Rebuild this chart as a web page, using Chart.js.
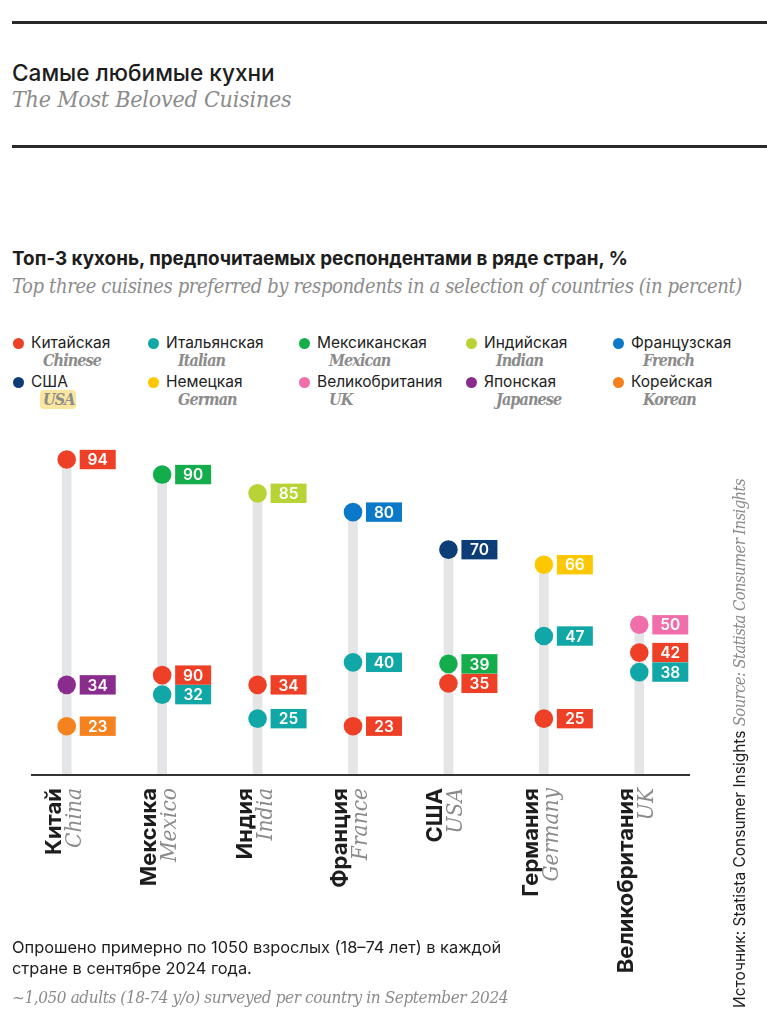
<!DOCTYPE html>
<html>
<head>
<meta charset="utf-8">
<script src="https://cdn.jsdelivr.net/npm/chart.js@4.4.1/dist/chart.umd.min.js"></script>
<style>
  body { margin: 0; width: 767px; height: 1024px; position: relative; overflow: hidden;
         background: #fff; font-family: Inter, "Noto Sans", sans-serif; color: #1d1d1d; }
  .rule { position: absolute; left: 12px; right: 0; height: 3px; background: #2a2a2a; }
  .t { position: absolute; white-space: nowrap; }
  .it { font-family: "DejaVu Serif Condensed", "DejaVu Serif", serif; font-style: italic; color: #8b8b8b; }
  #wrap { position: absolute; left: 0; top: 420px; width: 767px; height: 600px; }
  .dot { position: absolute; width: 11px; height: 11px; border-radius: 50%; }
  .mark { position: absolute; background: #fbe6a0; border-radius: 4px; }
</style>
</head>
<body>
<div class="rule" style="top:21px"></div>
<div class="t" style="left:12px;top:59px;font-size:22.6px;font-weight:500;">Самые любимые кухни</div>
<div class="t it" style="left:12px;top:86px;font-size:23px;letter-spacing:-0.2px;">The Most Beloved Cuisines</div>
<div class="rule" style="top:145px"></div>

<div class="t" style="left:12px;top:247px;font-size:18.85px;font-weight:700;">Топ-3 кухонь, предпочитаемых респондентами в ряде стран, %</div>
<div class="t it" style="left:12px;top:274px;font-size:20px;letter-spacing:-0.36px;">Top three cuisines preferred by respondents in a selection of countries (in percent)</div>

<div id="legend"></div>

<div id="wrap"><canvas id="chart"></canvas></div>

<div class="t" style="left:12px;top:937px;font-size:16.4px;line-height:21px;">Опрошено примерно по 1050 взрослых (18–74 лет) в каждой<br>стране в сентябре 2024 года.</div>
<div class="t it" style="left:12px;top:987px;font-size:17px;letter-spacing:-0.4px;">~1,050 adults (18-74 y/o) surveyed per country in September 2024</div>

<div class="t" style="left:731px;top:1008px;transform-origin:0 0;transform:rotate(-90deg);font-size:15.5px;line-height:18px;">Источник: Statista Consumer Insights <span class="it" style="font-size:16.5px;letter-spacing:-0.6px;">Source: Statista Consumer Insights</span></div>

<script>
// Страны (ось X)
const countriesRu = ['Китай', 'Мексика', 'Индия', 'Франция', 'США', 'Германия', 'Великобритания'];
const countriesEn = ['China', 'Mexico', 'India', 'France', 'USA', 'Germany', 'UK'];

// Кухни (легенда)
const cuisinesRu = ['Китайская', 'Итальянская', 'Мексиканская', 'Индийская', 'Французская',
                    'США', 'Немецкая', 'Великобритания', 'Японская', 'Корейская'];
const cuisinesEn = ['Chinese', 'Italian', 'Mexican', 'Indian', 'French',
                    'USA', 'German', 'UK', 'Japanese', 'Korean'];

// Значения, % (null = не в топ-3)
const chinese  = [94, 36, 34, 23, 35, 25, 42];
const italian  = [null, 32, 25, 40, null, 47, 38];
const mexican  = [null, 90, null, null, 39, null, null];
const indian   = [null, null, 85, null, null, null, null];
const french   = [null, null, null, 80, null, null, null];
const american = [null, null, null, null, 70, null, null];
const german   = [null, null, null, null, null, 66, null];
const british  = [null, null, null, null, null, null, 50];
const japanese = [34, null, null, null, null, null, null];
const korean   = [23, null, null, null, null, null, null];

// подписи как на картинке (у Мексики китайская кухня подписана "90")
const chineseTags = ['94', '90', '34', '23', '35', '25', '42'];

const axisMin = 10;
const axisMax = 100;

const series = [chinese, italian, mexican, indian, french, american, german, british, japanese, korean];
const colors = ['#ee4026', '#12a7a7', '#14ad4c', '#b8d335', '#0b79c8',
                '#0d3d77', '#fdc802', '#f06fab', '#8a2b8e', '#f4821f'];

// легенда
const legend = document.getElementById('legend');
const colX = [18, 153, 304, 471, 618];
const rowY = [343, 382];
cuisinesRu.forEach((name, i) => {
  const cx = colX[i % 5], cy = rowY[Math.floor(i / 5)];
  legend.insertAdjacentHTML('beforeend',
    `<div class="dot" style="left:${cx - 5.5}px;top:${cy - 5.5}px;background:${colors[i]}"></div>` +
    `<div class="t" style="left:${cx + 13}px;top:${cy - 10}px;font-size:15.5px;line-height:20px;color:#222">${name}</div>` +
    (i === 5 ? `<div class="mark" style="left:${cx + 22}px;top:${cy + 8}px;width:36px;height:19px"></div>` : '') +
    `<div class="t it" style="left:${cx + 25}px;top:${cy + 8}px;font-size:16px;line-height:20px;font-weight:bold;letter-spacing:-0.9px">${cuisinesEn[i]}</div>`);
});

// серые "стебли" от оси до верхней точки
const stems = countriesRu.map((_, i) =>
  [axisMin, Math.max(...series.map(s => s[i] == null ? -Infinity : s[i]))]);

const lollipop = {
  id: 'lollipop',
  // раздвигаем близкие точки, чтобы подписи не налезали
  afterDatasetsUpdate(chart) {
    const minGap = 19.5;
    countriesRu.forEach((_, i) => {
      const pts = [];
      chart.data.datasets.forEach((ds, d) => {
        if (ds.type !== 'line' || ds.data[i] == null) return;
        pts.push(chart.getDatasetMeta(d).data[i]);
      });
      pts.sort((a, b) => a.y - b.y);
      for (let k = 0; k < 20; k++) {
        for (let j = 1; j < pts.length; j++) {
          const gap = pts[j].y - pts[j - 1].y;
          if (gap < minGap) {
            const s = (minGap - gap) / 2;
            pts[j - 1].y -= s;
            pts[j].y += s;
          }
        }
      }
    });
  },
  afterDatasetsDraw(chart) {
    const ctx = chart.ctx, area = chart.chartArea;
    // ось
    ctx.save();
    ctx.strokeStyle = '#333';
    ctx.lineWidth = 2;
    ctx.beginPath();
    ctx.moveTo(area.left + 12, area.bottom);
    ctx.lineTo(area.right + 3, area.bottom);
    ctx.stroke();
    // плашки со значениями
    ctx.font = '600 15.5px Inter';
    ctx.textAlign = 'center';
    ctx.textBaseline = 'middle';
    chart.data.datasets.forEach((ds, d) => {
      if (ds.type !== 'line') return;
      chart.getDatasetMeta(d).data.forEach((p, i) => {
        if (ds.data[i] == null) return;
        ctx.fillStyle = ds.backgroundColor;
        ctx.fillRect(p.x + 13, p.y - 9.7, 36, 19.4);
        ctx.fillStyle = '#fff';
        ctx.fillText(ds.tags ? ds.tags[i] : String(ds.data[i]), p.x + 31, p.y + 1);
      });
    });
    // подписи стран
    const x = chart.scales.x;
    countriesRu.forEach((ru, i) => {
      ctx.save();
      ctx.translate(x.getPixelForValue(i), area.bottom + 13);
      ctx.rotate(-Math.PI / 2);
      ctx.textAlign = 'right';
      ctx.textBaseline = 'alphabetic';
      ctx.fillStyle = '#1d1d1d';
      ctx.font = 'bold 22px Inter';
      ctx.fillText(ru, 0, -6);
      ctx.fillStyle = '#8b8b8b';
      ctx.font = 'italic 22px "DejaVu Serif"';
      ctx.scale(0.92, 1);
      ctx.fillText(countriesEn[i], 0, 14);
      ctx.restore();
    });
    ctx.restore();
  }
};

new Chart(document.getElementById('chart'), {
  data: {
    labels: countriesRu,
    datasets: [
      {
        type: 'bar',
        data: stems,
        backgroundColor: '#e4e5e7',
        barThickness: 9,
        order: 2
      },
      ...series.map((s, i) => ({
        type: 'line',
        label: cuisinesEn[i],
        data: s,
        tags: i === 0 ? chineseTags : null,
        showLine: false,
        pointRadius: 9.3,
        pointHoverRadius: 9.3,
        pointBorderWidth: 0,
        backgroundColor: colors[i],
        pointBackgroundColor: colors[i],
        clip: false,
        order: 1
      }))
    ]
  },
  options: {
    responsive: true,
    maintainAspectRatio: false,
    animation: false,
    layout: { padding: { top: 17, bottom: 245, left: 19, right: 80 } },
    scales: {
      x: { display: false, offset: true },
      y: { display: false, min: axisMin, max: axisMax }
    },
    plugins: { legend: { display: false }, tooltip: { enabled: false } }
  },
  plugins: [lollipop]
});
</script>
</body>
</html>
